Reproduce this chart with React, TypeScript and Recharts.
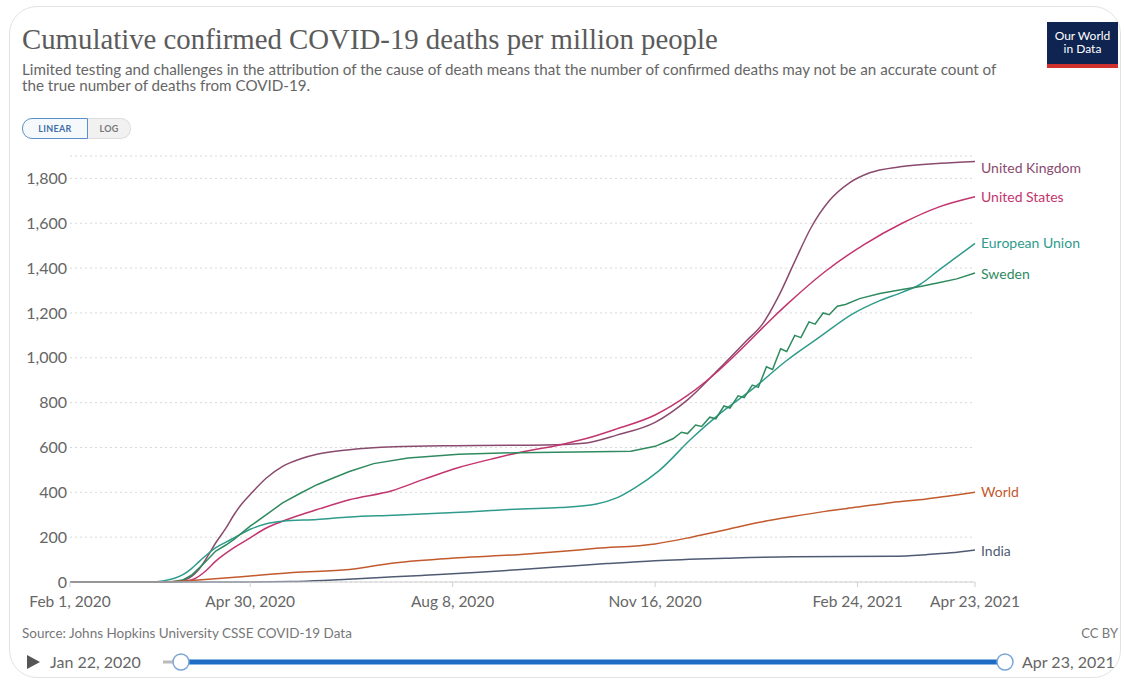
import { LineChart, Line, XAxis, YAxis, CartesianGrid } from "recharts";

// x values are days since Feb 1, 2020
const xTickDays = [0, 89, 189, 289, 389, 447];
const xTickLabels = ["Feb 1, 2020", "Apr 30, 2020", "Aug 8, 2020", "Nov 16, 2020", "Feb 24, 2021", "Apr 23, 2021"];
const yTicks = [0, 200, 400, 600, 800, 1000, 1200, 1400, 1600, 1800];

const unitedKingdom = [
  [0, 0], [45, 0], [52, 2], [59, 19], [64, 60], [68, 115], [72, 175], [77, 240], [81, 300], [85, 350],
  [89, 390], [97, 464], [105, 516], [114, 550], [122, 570], [138, 590], [160, 603], [190, 608], [222, 610],
  [240, 612], [255, 620], [270, 655], [289, 712], [305, 812], [320, 945], [334, 1075], [342, 1150],
  [350, 1275], [358, 1430], [366, 1580], [375, 1700], [385, 1780], [395, 1825], [410, 1852], [430, 1868],
  [447, 1876],
];

const unitedStates = [
  [0, 0], [50, 0], [55, 2], [61, 12], [67, 49], [72, 93], [81, 153], [89, 197], [97, 241], [105, 271],
  [114, 300], [122, 323], [138, 367], [159, 407], [175, 459], [192, 511], [208, 548], [222, 578], [240, 608],
  [255, 640], [270, 683], [289, 745], [305, 832], [320, 940], [334, 1060], [345, 1160], [354, 1237],
  [373, 1385], [392, 1504], [411, 1600], [429, 1672], [447, 1718],
];

const europeanUnion = [
  [0, 0], [40, 0], [46, 5], [52, 18], [56, 34], [60, 60], [64, 93], [68, 125], [72, 153], [77, 178],
  [81, 197], [89, 235], [97, 260], [105, 271], [122, 279], [138, 290], [160, 298], [190, 310], [223, 326],
  [242, 332], [260, 348], [270, 375], [279, 420], [291, 497], [307, 640], [321, 751], [338, 867], [354, 988],
  [370, 1091], [387, 1198], [400, 1255], [411, 1292], [420, 1328], [429, 1390], [438, 1450], [447, 1510],
];

const sweden = [
  [0, 0], [50, 0], [56, 10], [60, 30], [64, 64], [68, 100], [72, 138], [77, 165], [81, 190], [89, 249],
  [97, 300], [105, 353], [114, 397], [122, 434], [130, 464], [138, 493], [150, 528], [167, 553], [192, 570],
  [221, 577], [250, 580], [277, 583], [289, 605], [295, 628], [298, 640], [302, 668], [305, 662], [309, 700],
  [312, 694], [316, 735], [319, 728], [323, 785], [326, 776], [330, 830], [333, 822], [337, 878], [340, 868],
  [344, 960], [347, 948], [351, 1040], [354, 1028], [358, 1100], [361, 1090], [365, 1160], [368, 1150],
  [372, 1200], [375, 1192], [379, 1230], [383, 1238], [390, 1264], [400, 1287], [411, 1305], [420, 1318],
  [429, 1335], [438, 1352], [447, 1378],
];

const world = [
  [0, 0], [45, 0], [55, 3], [65, 10], [75, 17], [89, 27], [110, 42], [138, 56], [160, 85], [192, 108],
  [221, 122], [242, 136], [260, 150], [289, 170], [307, 200], [324, 233], [340, 265], [357, 292], [373, 315],
  [389, 334], [406, 355], [423, 370], [435, 385], [447, 400],
];

const india = [
  [0, 0], [90, 0], [109, 2], [125, 7], [142, 15], [160, 23], [175, 30], [200, 42], [221, 55], [242, 68],
  [265, 82], [289, 95], [324, 106], [357, 113], [407, 115], [423, 122], [435, 130], [447, 143],
];

const seriesNames = ["United Kingdom", "United States", "European Union", "Sweden", "World", "India"];
const seriesPoints = [unitedKingdom, unitedStates, europeanUnion, sweden, world, india];
const seriesColors = ["#8a4a6e", "#c2356e", "#2e9b8c", "#2f8a5f", "#c25a2e", "#4f5b73"];
const labelNudge = [7, 0, 0, 1, 0, 1];

const series = seriesNames.map((name, i) => ({
  name,
  color: seriesColors[i],
  nudge: labelNudge[i],
  data: seriesPoints[i].map(([day, v]) => ({ day, v })),
}));

const fmt = (n: number) => n.toLocaleString("en-US");

function Toggle() {
  return (
    <div style={{ position: "absolute", left: 22, top: 118, display: "flex", fontSize: 9, fontWeight: 700, letterSpacing: 0.3 }}>
      <div style={{ width: 64, height: 19, lineHeight: "19px", textAlign: "center", border: "1.5px solid #5b8fc7", borderRadius: "10px 0 0 10px", color: "#3d6fa6", background: "#f6f9fc" }}>LINEAR</div>
      <div style={{ width: 42, height: 19, lineHeight: "19px", textAlign: "center", border: "1px solid #ddd", borderLeft: "none", borderRadius: "0 10px 10px 0", color: "#777", background: "#f1f1f1" }}>LOG</div>
    </div>
  );
}

function Slider() {
  return (
    <div style={{ position: "absolute", left: 0, top: 648, width: 1124, height: 28 }}>
      <svg width={1124} height={28} style={{ position: "absolute", left: 0, top: 0 }}>
        <polygon points="27,7 27,21 40,14" fill="#555" />
        <line x1={163} y1={14} x2={181} y2={14} stroke="#bbb" strokeWidth={3} />
        <line x1={181} y1={14} x2={1005} y2={14} stroke="#1f6cc4" strokeWidth={5} />
        <circle cx={181} cy={14} r={8} fill="#fff" stroke="#7aa6d6" strokeWidth={1.5} />
        <circle cx={1005} cy={14} r={8} fill="#fff" stroke="#7aa6d6" strokeWidth={1.5} />
      </svg>
      <div style={{ position: "absolute", left: 50, top: 4, fontSize: 16, color: "#666" }}>Jan 22, 2020</div>
      <div style={{ position: "absolute", left: 1022, top: 4, fontSize: 16, color: "#666" }}>Apr 23, 2021</div>
    </div>
  );
}

export default function App() {
  return (
    <div style={{ position: "absolute", left: 0, top: 0, width: 1124, height: 683, background: "#fff", fontFamily: "Lato, 'Noto Sans', sans-serif", overflow: "hidden" }}>
      <div style={{ position: "absolute", left: 9, top: 6, width: 1112, height: 672, border: "1px solid #e2e2e2", borderRadius: 28, boxSizing: "border-box" }} />

      <div style={{ position: "absolute", left: 22, top: 23, fontFamily: "'Liberation Serif', serif", fontSize: 28.8, color: "#5b5b5b", whiteSpace: "nowrap" }}>
        Cumulative confirmed COVID-19 deaths per million people
      </div>
      <div style={{ position: "absolute", left: 22, top: 61, width: 985, fontSize: 15.2, lineHeight: "16px", color: "#666" }}>
        Limited testing and challenges in the attribution of the cause of death means that the number of confirmed deaths may not be an accurate count of the true number of deaths from COVID-19.
      </div>

      <div style={{ position: "absolute", left: 1047, top: 22, width: 71, height: 46, background: "#0f2450", color: "#fff", fontSize: 12, lineHeight: "13px", textAlign: "center", boxSizing: "border-box", paddingTop: 7, borderBottom: "4px solid #d0312d" }}>
        Our World
        <br />
        in Data
      </div>

      <Toggle />

      <div style={{ position: "absolute", left: 0, top: 140 }}>
        <LineChart width={1124} height={480} margin={{ top: 16, right: 149, bottom: 6, left: 0 }}>
          <CartesianGrid vertical={false} stroke="#d8d8d8" strokeDasharray="2 3" />
          <XAxis
            dataKey="day"
            type="number"
            domain={[0, 447]}
            ticks={xTickDays}
            tickFormatter={(d: number) => xTickLabels[xTickDays.indexOf(d)]}
            allowDuplicatedCategory={false}
            height={32}
            stroke="#d0d0d0"
            tickSize={5}
            tickMargin={9}
            tick={{ fill: "#666", fontSize: 15.5 }}
            interval={0}
          />
          <YAxis
            type="number"
            domain={[0, 1900]}
            ticks={yTicks}
            tickFormatter={fmt}
            width={70}
            axisLine={false}
            tickLine={false}
            tickSize={0}
            tickMargin={3}
            tick={{ fill: "#666", fontSize: 16 }}
          />
          {series.map((s) => (
            <Line
              key={s.name}
              data={s.data}
              dataKey="v"
              name={s.name}
              type={s.name === "Sweden" ? "linear" : "monotone"}
              stroke={s.color}
              strokeWidth={1.5}
              dot={false}
              activeDot={false}
              isAnimationActive={false}
              label={(p: any) =>
                p.index === s.data.length - 1 ? (
                  <text key={s.name} x={p.x + 6} y={p.y + s.nudge} dy="0.35em" fill={s.color} fontSize={14} fontFamily="Lato, sans-serif">
                    {s.name}
                  </text>
                ) : null
              }
            />
          ))}
        </LineChart>
      </div>

      <div style={{ position: "absolute", left: 22, top: 625, fontSize: 13.5, color: "#777" }}>Source: Johns Hopkins University CSSE COVID-19 Data</div>
      <div style={{ position: "absolute", right: 6, top: 625, fontSize: 13, color: "#777" }}>CC BY</div>

      <Slider />
    </div>
  );
}
